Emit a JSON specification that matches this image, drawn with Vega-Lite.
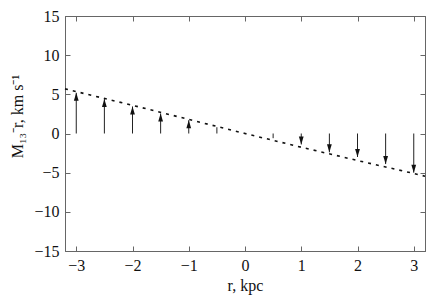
{
  "$schema": "https://vega.github.io/schema/vega-lite/v6.json",
  "width": 360,
  "height": 235,
  "autosize": "none",
  "padding": {"left": 65, "top": 16, "right": 11, "bottom": 50},
  "background": "white",
  "config": {
    "view": {"stroke": "#666", "strokeWidth": 1},
    "axis": {
      "grid": false,
      "domainColor": "#666",
      "tickColor": "#666",
      "tickSize": -5,
      "labelFont": "Liberation Serif",
      "labelFontSize": 16,
      "labelColor": "#111",
      "titleFont": "Liberation Serif",
      "titleFontSize": 16,
      "titleFontWeight": "normal",
      "titleColor": "#111"
    }
  },
  "datasets": {
    "arrows": [
      {"r": -3, "v": 5.2}, {"r": -2.5, "v": 4.4}, {"r": -2, "v": 3.45},
      {"r": -1.5, "v": 2.55}, {"r": -1, "v": 1.7}, {"r": -0.5, "v": 0.8},
      {"r": 0.5, "v": -0.6}, {"r": 1, "v": -1.4}, {"r": 1.5, "v": -2.4},
      {"r": 2, "v": -3.0}, {"r": 2.5, "v": -3.9}, {"r": 3, "v": -5.0}
    ],
    "curve": [
      {"r": -3.2, "v": 5.7}, {"r": -3, "v": 5.35}, {"r": -2, "v": 3.6},
      {"r": -1, "v": 1.8}, {"r": 0, "v": 0}, {"r": 1, "v": -1.75},
      {"r": 2, "v": -3.45}, {"r": 3, "v": -5.1}, {"r": 3.2, "v": -5.45}
    ]
  },
  "resolve": {"axis": {"x": "independent", "y": "independent"}},
  "layer": [
    {
      "mark": {"type": "rule", "color": "#666", "strokeWidth": 1},
      "encoding": {"y": {"datum": 0, "type": "quantitative", "scale": {"domain": [-15, 15], "nice": false}, "axis": null}}
    },
    {
      "mark": {"type": "rule", "color": "#666", "strokeWidth": 1},
      "encoding": {"x": {"datum": 0, "type": "quantitative", "scale": {"domain": [-3.2, 3.2], "nice": false}, "axis": null}}
    },
    {
      "data": {"name": "curve"},
      "mark": {"type": "line", "color": "#111", "strokeWidth": 1.6, "strokeDash": [3, 5]},
      "encoding": {
        "x": {"field": "r", "type": "quantitative", "axis": {"orient": "top", "labels": false, "title": null, "values": [-3, -2, -1, 0, 1, 2, 3]}},
        "y": {"field": "v", "type": "quantitative", "axis": {"orient": "right", "labels": false, "title": null, "values": [-15, -10, -5, 0, 5, 10, 15]}}
      }
    },
    {
      "data": {"name": "arrows"},
      "mark": {"type": "rule", "color": "#222", "strokeWidth": 1},
      "encoding": {
        "x": {"field": "r", "type": "quantitative", "axis": {"orient": "bottom", "title": "r, kpc", "values": [-3, -2, -1, 0, 1, 2, 3], "labelPadding": 11, "titlePadding": 4}},
        "y": {"field": "v", "type": "quantitative", "axis": {"orient": "left", "title": "M₁₃⁻r, km s⁻¹", "values": [-15, -10, -5, 0, 5, 10, 15], "labelPadding": 11, "titlePadding": 8, "titleY": 100}},
        "y2": {"datum": 0}
      }
    },
    {
      "data": {"name": "arrows"},
      "transform": [{"filter": "datum.v > 1"}],
      "mark": {"type": "point", "filled": true, "color": "#111", "opacity": 1, "shape": "M0,0L-0.3,1L0.3,1Z", "size": 256},
      "encoding": {
        "x": {"field": "r", "type": "quantitative", "axis": null},
        "y": {"field": "v", "type": "quantitative", "axis": null}
      }
    },
    {
      "data": {"name": "arrows"},
      "transform": [{"filter": "datum.v < -1"}],
      "mark": {"type": "point", "filled": true, "color": "#111", "opacity": 1, "shape": "M0,0L-0.3,-1L0.3,-1Z", "size": 256},
      "encoding": {
        "x": {"field": "r", "type": "quantitative", "axis": null},
        "y": {"field": "v", "type": "quantitative", "axis": null}
      }
    }
  ]
}
